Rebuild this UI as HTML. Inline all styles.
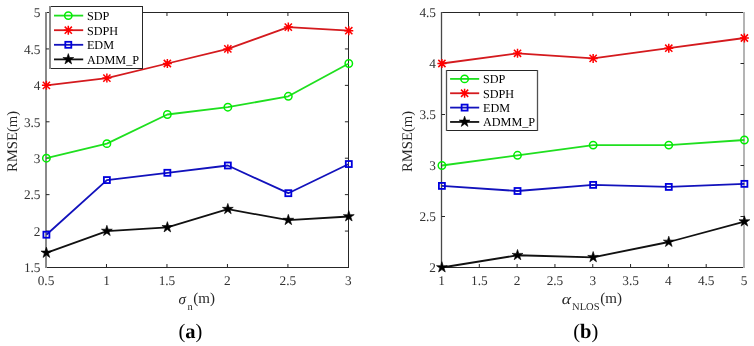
<!DOCTYPE html>
<html><head><meta charset="utf-8"><style>
html,body{margin:0;padding:0;background:#fff;overflow:hidden}
svg{display:block;will-change:transform}
text{font-family:"Liberation Serif", serif;fill:#262626;text-rendering:geometricPrecision}
.t{font-size:13.3px;fill:#333}
.l{font-size:14.7px}
.x{font-size:15px}
.s{font-size:10.5px}
.g{font-size:12.2px;fill:#000}
.c{font-size:20.5px;font-weight:bold;fill:#000}
</style></head><body>
<svg width="754" height="346" viewBox="0 0 754 346">
<rect width="754" height="346" fill="#fff"/>
<path d="M47.0 12.5H348.0M47.0 267.5H348.0" stroke="#262626" stroke-width="1"/>
<path d="M46.0 12.0V268.0" stroke="#8a8a8a" stroke-width="2"/>
<path d="M348.5 12.0V268.0" stroke="#262626" stroke-width="1"/>
<path d="M106.48 267.5V264.0M106.48 12.5V16.0M166.96 267.5V264.0M166.96 12.5V16.0M227.44 267.5V264.0M227.44 12.5V16.0M287.92 267.5V264.0M287.92 12.5V16.0M46.0 231.07H49.5M348.4 231.07H344.9M46.0 194.64H49.5M348.4 194.64H344.9M46.0 158.21H49.5M348.4 158.21H344.9M46.0 121.79H49.5M348.4 121.79H344.9M46.0 85.36H49.5M348.4 85.36H344.9M46.0 48.93H49.5M348.4 48.93H344.9" stroke="#262626" stroke-width="1" fill="none"/>
<text x="46.00" y="285.20" text-anchor="middle" class="t">0.5</text>
<text x="106.48" y="285.20" text-anchor="middle" class="t">1</text>
<text x="166.96" y="285.20" text-anchor="middle" class="t">1.5</text>
<text x="227.44" y="285.20" text-anchor="middle" class="t">2</text>
<text x="287.92" y="285.20" text-anchor="middle" class="t">2.5</text>
<text x="348.40" y="285.20" text-anchor="middle" class="t">3</text>
<text x="40.50" y="272.30" text-anchor="end" class="t">1.5</text>
<text x="40.50" y="235.87" text-anchor="end" class="t">2</text>
<text x="40.50" y="199.44" text-anchor="end" class="t">2.5</text>
<text x="40.50" y="163.01" text-anchor="end" class="t">3</text>
<text x="40.50" y="126.59" text-anchor="end" class="t">3.5</text>
<text x="40.50" y="90.16" text-anchor="end" class="t">4</text>
<text x="40.50" y="53.73" text-anchor="end" class="t">4.5</text>
<text x="40.50" y="17.30" text-anchor="end" class="t">5</text>
<polyline points="46.40,158.21 106.88,143.64 167.36,114.50 227.84,107.21 288.32,96.29 348.80,63.50" fill="none" stroke="#1fdf1f" stroke-width="1.8" stroke-linejoin="round"/>
<circle cx="46.40" cy="158.21" r="3.7" fill="none" stroke="#00ee00" stroke-width="1.5"/>
<circle cx="106.88" cy="143.64" r="3.7" fill="none" stroke="#00ee00" stroke-width="1.5"/>
<circle cx="167.36" cy="114.50" r="3.7" fill="none" stroke="#00ee00" stroke-width="1.5"/>
<circle cx="227.84" cy="107.21" r="3.7" fill="none" stroke="#00ee00" stroke-width="1.5"/>
<circle cx="288.32" cy="96.29" r="3.7" fill="none" stroke="#00ee00" stroke-width="1.5"/>
<circle cx="348.80" cy="63.50" r="3.7" fill="none" stroke="#00ee00" stroke-width="1.5"/>
<polyline points="46.40,85.36 106.88,78.07 167.36,63.50 227.84,48.93 288.32,27.07 348.80,30.71" fill="none" stroke="#d41a1e" stroke-width="1.8" stroke-linejoin="round"/>
<path d="M41.90 85.36H50.90M46.40 80.86V89.86M42.80 81.76L50.00 88.96M42.80 88.96L50.00 81.76" stroke="#ff0000" stroke-width="1.5" fill="none"/>
<path d="M102.38 78.07H111.38M106.88 73.57V82.57M103.28 74.47L110.48 81.67M103.28 81.67L110.48 74.47" stroke="#ff0000" stroke-width="1.5" fill="none"/>
<path d="M162.86 63.50H171.86M167.36 59.00V68.00M163.76 59.90L170.96 67.10M163.76 67.10L170.96 59.90" stroke="#ff0000" stroke-width="1.5" fill="none"/>
<path d="M223.34 48.93H232.34M227.84 44.43V53.43M224.24 45.33L231.44 52.53M224.24 52.53L231.44 45.33" stroke="#ff0000" stroke-width="1.5" fill="none"/>
<path d="M283.82 27.07H292.82M288.32 22.57V31.57M284.72 23.47L291.92 30.67M284.72 30.67L291.92 23.47" stroke="#ff0000" stroke-width="1.5" fill="none"/>
<path d="M344.30 30.71H353.30M348.80 26.21V35.21M345.20 27.11L352.40 34.31M345.20 34.31L352.40 27.11" stroke="#ff0000" stroke-width="1.5" fill="none"/>
<polyline points="46.40,234.71 106.88,180.07 167.36,172.79 227.84,165.50 288.32,193.19 348.80,164.04" fill="none" stroke="#1212bc" stroke-width="1.8" stroke-linejoin="round"/>
<rect x="43.40" y="231.71" width="6.00" height="6.00" fill="none" stroke="#0000dd" stroke-width="1.8"/>
<rect x="103.88" y="177.07" width="6.00" height="6.00" fill="none" stroke="#0000dd" stroke-width="1.8"/>
<rect x="164.36" y="169.79" width="6.00" height="6.00" fill="none" stroke="#0000dd" stroke-width="1.8"/>
<rect x="224.84" y="162.50" width="6.00" height="6.00" fill="none" stroke="#0000dd" stroke-width="1.8"/>
<rect x="285.32" y="190.19" width="6.00" height="6.00" fill="none" stroke="#0000dd" stroke-width="1.8"/>
<rect x="345.80" y="161.04" width="6.00" height="6.00" fill="none" stroke="#0000dd" stroke-width="1.8"/>
<polyline points="46.40,252.93 106.88,231.07 167.36,227.43 227.84,209.21 288.32,220.14 348.80,216.50" fill="none" stroke="#111111" stroke-width="1.8" stroke-linejoin="round"/>
<polygon points="46.40,247.13 47.68,251.07 51.82,251.07 48.47,253.50 49.75,257.44 46.40,255.01 43.05,257.44 44.33,253.50 40.98,251.07 45.12,251.07" fill="#000000" stroke="#000000" stroke-width="0.6"/>
<polygon points="106.88,225.27 108.16,229.21 112.30,229.21 108.95,231.64 110.23,235.58 106.88,233.15 103.53,235.58 104.81,231.64 101.46,229.21 105.60,229.21" fill="#000000" stroke="#000000" stroke-width="0.6"/>
<polygon points="167.36,221.63 168.64,225.57 172.78,225.57 169.43,228.00 170.71,231.94 167.36,229.51 164.01,231.94 165.29,228.00 161.94,225.57 166.08,225.57" fill="#000000" stroke="#000000" stroke-width="0.6"/>
<polygon points="227.84,203.41 229.12,207.35 233.26,207.35 229.91,209.79 231.19,213.73 227.84,211.29 224.49,213.73 225.77,209.79 222.42,207.35 226.56,207.35" fill="#000000" stroke="#000000" stroke-width="0.6"/>
<polygon points="288.32,214.34 289.60,218.28 293.74,218.28 290.39,220.72 291.67,224.65 288.32,222.22 284.97,224.65 286.25,220.72 282.90,218.28 287.04,218.28" fill="#000000" stroke="#000000" stroke-width="0.6"/>
<polygon points="348.80,210.70 350.08,214.64 354.22,214.64 350.87,217.07 352.15,221.01 348.80,218.58 345.45,221.01 346.73,217.07 343.38,214.64 347.52,214.64" fill="#000000" stroke="#000000" stroke-width="0.6"/>
<text transform="translate(17,141.5) rotate(-90)" text-anchor="middle" class="l">RMSE(m)</text>
<text x="178.4" y="303.8" class="x" font-style="italic">σ</text><text x="187.4" y="309.8" class="s">n</text><text x="193.3" y="303.1" class="x">(m)</text>
<text x="190.35" y="337.8" text-anchor="middle" class="c"><tspan font-weight="normal">(</tspan>a<tspan font-weight="normal">)</tspan></text>
<rect x="49.7" y="6.5" width="92.8" height="62" fill="#fff"/>
<path d="M49.2 6.5H143.0M49.2 68.5H143.0" stroke="#262626" stroke-width="1"/>
<path d="M50.0 6.0V69.0" stroke="#8a8a8a" stroke-width="2"/>
<path d="M142.5 6.0V69.0" stroke="#262626" stroke-width="1"/>
<path d="M54.00 15.60H83.20" stroke="#1fdf1f" stroke-width="1.8"/>
<circle cx="68.30" cy="15.60" r="3.7" fill="none" stroke="#00ee00" stroke-width="1.5"/>
<text x="86.90" y="19.90" class="g">SDP</text>
<path d="M54.00 30.20H83.20" stroke="#d41a1e" stroke-width="1.8"/>
<path d="M63.80 30.20H72.80M68.30 25.70V34.70M64.70 26.60L71.90 33.80M64.70 33.80L71.90 26.60" stroke="#ff0000" stroke-width="1.5" fill="none"/>
<text x="86.90" y="34.50" class="g">SDPH</text>
<path d="M54.00 44.80H83.20" stroke="#1212bc" stroke-width="1.8"/>
<rect x="65.30" y="41.80" width="6.00" height="6.00" fill="none" stroke="#0000dd" stroke-width="1.8"/>
<text x="86.90" y="49.10" class="g">EDM</text>
<path d="M54.00 59.40H83.20" stroke="#111111" stroke-width="1.8"/>
<polygon points="68.30,53.60 69.58,57.54 73.72,57.54 70.37,59.97 71.65,63.91 68.30,61.48 64.95,63.91 66.23,59.97 62.88,57.54 67.02,57.54" fill="#000000" stroke="#000000" stroke-width="0.6"/>
<text x="86.90" y="63.70" class="g">ADMM_P</text>
<path d="M442.15 12.5H743.0M442.15 267.5H743.0" stroke="#262626" stroke-width="1"/>
<path d="M441.5 12.0V268.0" stroke="#484848" stroke-width="1.3"/>
<path d="M744.0 12.0V268.0" stroke="#b4b4b4" stroke-width="2"/>
<path d="M479.31 267.5V264.0M479.31 12.5V16.0M517.12 267.5V264.0M517.12 12.5V16.0M554.94 267.5V264.0M554.94 12.5V16.0M592.75 267.5V264.0M592.75 12.5V16.0M630.56 267.5V264.0M630.56 12.5V16.0M668.38 267.5V264.0M668.38 12.5V16.0M706.19 267.5V264.0M706.19 12.5V16.0M441.5 216.50H445.0M744.0 216.50H740.5M441.5 165.50H445.0M744.0 165.50H740.5M441.5 114.50H445.0M744.0 114.50H740.5M441.5 63.50H445.0M744.0 63.50H740.5" stroke="#262626" stroke-width="1" fill="none"/>
<text x="441.50" y="285.20" text-anchor="middle" class="t">1</text>
<text x="479.31" y="285.20" text-anchor="middle" class="t">1.5</text>
<text x="517.12" y="285.20" text-anchor="middle" class="t">2</text>
<text x="554.94" y="285.20" text-anchor="middle" class="t">2.5</text>
<text x="592.75" y="285.20" text-anchor="middle" class="t">3</text>
<text x="630.56" y="285.20" text-anchor="middle" class="t">3.5</text>
<text x="668.38" y="285.20" text-anchor="middle" class="t">4</text>
<text x="706.19" y="285.20" text-anchor="middle" class="t">4.5</text>
<text x="744.00" y="285.20" text-anchor="middle" class="t">5</text>
<text x="436.00" y="272.30" text-anchor="end" class="t">2</text>
<text x="436.00" y="221.30" text-anchor="end" class="t">2.5</text>
<text x="436.00" y="170.30" text-anchor="end" class="t">3</text>
<text x="436.00" y="119.30" text-anchor="end" class="t">3.5</text>
<text x="436.00" y="68.30" text-anchor="end" class="t">4</text>
<text x="436.00" y="17.30" text-anchor="end" class="t">4.5</text>
<polyline points="441.90,165.50 517.52,155.30 593.15,145.10 668.77,145.10 744.40,140.00" fill="none" stroke="#1fdf1f" stroke-width="1.8" stroke-linejoin="round"/>
<circle cx="441.90" cy="165.50" r="3.7" fill="none" stroke="#00ee00" stroke-width="1.5"/>
<circle cx="517.52" cy="155.30" r="3.7" fill="none" stroke="#00ee00" stroke-width="1.5"/>
<circle cx="593.15" cy="145.10" r="3.7" fill="none" stroke="#00ee00" stroke-width="1.5"/>
<circle cx="668.77" cy="145.10" r="3.7" fill="none" stroke="#00ee00" stroke-width="1.5"/>
<circle cx="744.40" cy="140.00" r="3.7" fill="none" stroke="#00ee00" stroke-width="1.5"/>
<polyline points="441.90,63.50 517.52,53.30 593.15,58.40 668.77,48.20 744.40,38.00" fill="none" stroke="#d41a1e" stroke-width="1.8" stroke-linejoin="round"/>
<path d="M437.40 63.50H446.40M441.90 59.00V68.00M438.30 59.90L445.50 67.10M438.30 67.10L445.50 59.90" stroke="#ff0000" stroke-width="1.5" fill="none"/>
<path d="M513.02 53.30H522.02M517.52 48.80V57.80M513.92 49.70L521.12 56.90M513.92 56.90L521.12 49.70" stroke="#ff0000" stroke-width="1.5" fill="none"/>
<path d="M588.65 58.40H597.65M593.15 53.90V62.90M589.55 54.80L596.75 62.00M589.55 62.00L596.75 54.80" stroke="#ff0000" stroke-width="1.5" fill="none"/>
<path d="M664.27 48.20H673.27M668.77 43.70V52.70M665.17 44.60L672.38 51.80M665.17 51.80L672.38 44.60" stroke="#ff0000" stroke-width="1.5" fill="none"/>
<path d="M739.90 38.00H748.90M744.40 33.50V42.50M740.80 34.40L748.00 41.60M740.80 41.60L748.00 34.40" stroke="#ff0000" stroke-width="1.5" fill="none"/>
<polyline points="441.90,185.90 517.52,191.00 593.15,184.88 668.77,186.92 744.40,183.86" fill="none" stroke="#1212bc" stroke-width="1.8" stroke-linejoin="round"/>
<rect x="438.90" y="182.90" width="6.00" height="6.00" fill="none" stroke="#0000dd" stroke-width="1.8"/>
<rect x="514.52" y="188.00" width="6.00" height="6.00" fill="none" stroke="#0000dd" stroke-width="1.8"/>
<rect x="590.15" y="181.88" width="6.00" height="6.00" fill="none" stroke="#0000dd" stroke-width="1.8"/>
<rect x="665.77" y="183.92" width="6.00" height="6.00" fill="none" stroke="#0000dd" stroke-width="1.8"/>
<rect x="741.40" y="180.86" width="6.00" height="6.00" fill="none" stroke="#0000dd" stroke-width="1.8"/>
<polyline points="441.90,267.50 517.52,255.26 593.15,257.30 668.77,242.00 744.40,221.60" fill="none" stroke="#111111" stroke-width="1.8" stroke-linejoin="round"/>
<polygon points="441.90,261.70 443.18,265.64 447.32,265.64 443.97,268.07 445.25,272.01 441.90,269.58 438.55,272.01 439.83,268.07 436.48,265.64 440.62,265.64" fill="#000000" stroke="#000000" stroke-width="0.6"/>
<polygon points="517.52,249.46 518.80,253.40 522.95,253.40 519.60,255.83 520.88,259.77 517.52,257.34 514.17,259.77 515.45,255.83 512.10,253.40 516.25,253.40" fill="#000000" stroke="#000000" stroke-width="0.6"/>
<polygon points="593.15,251.50 594.43,255.44 598.57,255.44 595.22,257.87 596.50,261.81 593.15,259.38 589.80,261.81 591.08,257.87 587.73,255.44 591.87,255.44" fill="#000000" stroke="#000000" stroke-width="0.6"/>
<polygon points="668.77,236.20 670.05,240.14 674.20,240.14 670.85,242.57 672.13,246.51 668.77,244.08 665.42,246.51 666.70,242.57 663.35,240.14 667.50,240.14" fill="#000000" stroke="#000000" stroke-width="0.6"/>
<polygon points="744.40,215.80 745.68,219.74 749.82,219.74 746.47,222.17 747.75,226.11 744.40,223.68 741.05,226.11 742.33,222.17 738.98,219.74 743.12,219.74" fill="#000000" stroke="#000000" stroke-width="0.6"/>
<text transform="translate(412,141.5) rotate(-90)" text-anchor="middle" class="l">RMSE(m)</text>
<text transform="translate(561.7,303.6) scale(1.17,1)" class="x" font-style="italic">α</text><text x="572.1" y="309.8" class="s">NLOS</text><text x="600.3" y="303.1" class="x">(m)</text>
<text x="585.75" y="337.8" text-anchor="middle" class="c"><tspan font-weight="normal">(</tspan>b<tspan font-weight="normal">)</tspan></text>
<rect x="446.5" y="70.5" width="91" height="60" fill="#fff"/>
<path d="M446.0 70.5H538.0M446.0 130.5H538.0" stroke="#262626" stroke-width="1"/>
<path d="M446.5 70.0V131.0" stroke="#505050" stroke-width="1.3"/>
<path d="M537.5 70.0V131.0" stroke="#505050" stroke-width="1.3"/>
<path d="M450.10 78.90H479.20" stroke="#1fdf1f" stroke-width="1.8"/>
<circle cx="464.60" cy="78.90" r="3.7" fill="none" stroke="#00ee00" stroke-width="1.5"/>
<text x="483.00" y="83.20" class="g">SDP</text>
<path d="M450.10 93.25H479.20" stroke="#d41a1e" stroke-width="1.8"/>
<path d="M460.10 93.25H469.10M464.60 88.75V97.75M461.00 89.65L468.20 96.85M461.00 96.85L468.20 89.65" stroke="#ff0000" stroke-width="1.5" fill="none"/>
<text x="483.00" y="97.55" class="g">SDPH</text>
<path d="M450.10 107.60H479.20" stroke="#1212bc" stroke-width="1.8"/>
<rect x="461.60" y="104.60" width="6.00" height="6.00" fill="none" stroke="#0000dd" stroke-width="1.8"/>
<text x="483.00" y="111.90" class="g">EDM</text>
<path d="M450.10 121.95H479.20" stroke="#111111" stroke-width="1.8"/>
<polygon points="464.60,116.15 465.88,120.09 470.02,120.09 466.67,122.52 467.95,126.46 464.60,124.03 461.25,126.46 462.53,122.52 459.18,120.09 463.32,120.09" fill="#000000" stroke="#000000" stroke-width="0.6"/>
<text x="483.00" y="126.25" class="g">ADMM_P</text>
</svg></body></html>
